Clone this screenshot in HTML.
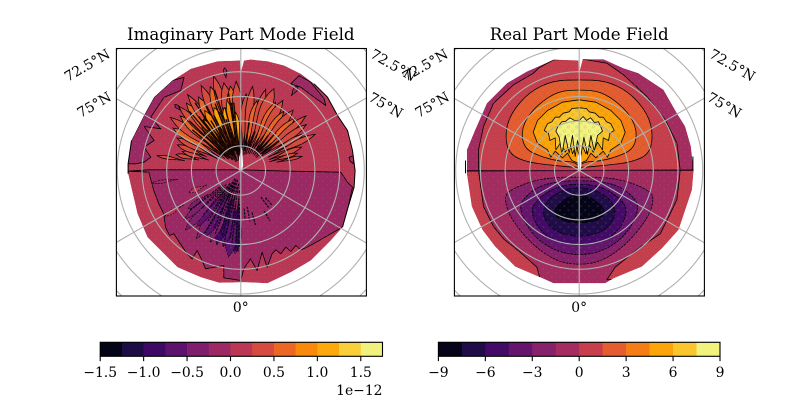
<!DOCTYPE html>
<html><head><meta charset="utf-8"><title>Mode Field Maps</title>
<style>
html,body{margin:0;padding:0;background:#fff;width:800px;height:400px;overflow:hidden}
svg{display:block}
text{font-family:"DejaVu Serif","Liberation Serif",serif;fill:#000}
.tick{font-size:13.9px}
.title{font-size:16.67px}
</style></head>
<body>
<svg id="fig" xmlns="http://www.w3.org/2000/svg" width="800" height="400" viewBox="0 0 800 400">
<defs>
<pattern id="stipple" width="8.33" height="8.33" patternUnits="userSpaceOnUse">
<circle cx="2" cy="2" r="1.1" fill="#ffffff" fill-opacity="0.1" stroke="#000" stroke-opacity="0.12" stroke-width="0.7"/>
<circle cx="6.17" cy="6.17" r="1.1" fill="#ffffff" fill-opacity="0.1" stroke="#000" stroke-opacity="0.12" stroke-width="0.7"/>
</pattern>
</defs>
<g id="layer"></g>
<text class="title" x="240.8" y="40" text-anchor="middle">Imaginary Part Mode Field</text>
<text class="title" x="579.2" y="40" text-anchor="middle">Real Part Mode Field</text>
<text class="tick" x="240.8" y="312" text-anchor="middle">0°</text>
<text class="tick" x="579.2" y="312" text-anchor="middle">0°</text>
<text class="tick" text-anchor="middle" transform="translate(87,65) rotate(-30)" dy="5">72.5°N</text>
<text class="tick" text-anchor="middle" transform="translate(94,104.5) rotate(-30)" dy="5">75°N</text>
<text class="tick" text-anchor="middle" transform="translate(393.5,65) rotate(30)" dy="5">72.5°N</text>
<text class="tick" text-anchor="middle" transform="translate(386,105) rotate(30)" dy="5">75°N</text>
<text class="tick" text-anchor="middle" transform="translate(425,65) rotate(-30)" dy="5">72.5°N</text>
<text class="tick" text-anchor="middle" transform="translate(432,104.5) rotate(-30)" dy="5">75°N</text>
<text class="tick" text-anchor="middle" transform="translate(732.5,65) rotate(30)" dy="5">72.5°N</text>
<text class="tick" text-anchor="middle" transform="translate(724.5,105) rotate(30)" dy="5">75°N</text>
<text class="tick" x="382.5" y="395" text-anchor="end">1e−12</text>
</svg>
<script>
// ---------- colour scales ----------
const imagColors = ['#040417','#1e0c45','#3d0965','#5d126e','#7e1e6c','#9c2964','#bc3754','#d64b40','#ec6726','#f9890b','#fca90e','#f9cf3a','#f1f27e'];
const realColors = ['#050418','#210c4a','#440a68','#65156e','#87216b','#a52c60','#c73e4c','#e55c30','#f67d15','#fca50a','#fac62d','#f2f27f'];
const imagTicks = [-1.5,-1.0,-0.5,0.0,0.5,1.0,1.5];
const realTicks = [-9,-6,-3,0,3,6,9];
const imagRange = [-1.5,1.75];
const realRange = [-9,9];

// ---------- graticule ----------
const latitudeRings = [87.5,85,82.5,80,77.5,75,72.5];
const meridians = [0,60,120,180,240,300];

// ---------- map-unit outlines [east,north] ----------
const imagDisk = [[10,330],[30,333],[80,328],[130,315],[180,290],[220,260],[260,220],[290,165],[320,120],[335,60],[343,0],[340,-50],[322,-110],[305,-170],[270,-210],[210,-270],[150,-305],[80,-338],[10,-335],[-65,-337],[-120,-320],[-190,-290],[-240,-240],[-280,-200],[-310,-130],[-338,-10],[-338,20],[-328,90],[-290,165],[-260,220],[-205,270],[-150,305],[-70,328],[-5,330]];
const realDisk = [[13,334],[73,334],[133,307],[178,292],[253,242],[293,172],[318,132],[335,72],[343,0],[338,-58],[318,-118],[298,-178],[248,-233],[188,-288],[103,-323],[78,-338],[-77,-338],[-117,-320],[-192,-288],[-252,-228],[-290,-178],[-322,-108],[-337,-8],[-337,62],[-312,122],[-277,202],[-217,262],[-157,297],[-77,332],[-2,330]];

// imaginary field: regions of the -0.25..0 band
const imagLowerBand = [[-338,-2],[-275,2],[-150,2],[0,2],[150,-2],[300,-5],[320,-35],[335,-50],[322,-110],[305,-170],[270,-190],[232,-212],[199,-230],[180,-238],[165,-225],[150,-243],[135,-230],[120,-250],[105,-238],[94,-250],[79,-290],[64,-245],[49,-300],[29,-265],[9,-295],[0,-330],[-51,-322],[-51,-285],[-106,-295],[-116,-270],[-131,-240],[-146,-265],[-161,-250],[-178,-225],[-201,-190],[-214,-195],[-226,-170],[-231,-130],[-246,-100],[-261,-60],[-276,-5]];
const imagUpperLeftBand = [[-338,20],[-315,20],[-290,25],[-270,40],[-290,70],[-260,90],[-285,125],[-290,132],[-260,128],[-240,125],[-270,160],[-230,220],[-180,240],[-170,280],[-205,270],[-260,220],[-290,165],[-328,90]];
const imagUpperRightBand = [[150,260],[175,285],[210,265],[250,215],[255,195],[220,220],[180,250]];
const imagRightSpeck = [[325,40],[338,45],[338,20],[328,28]];

// imaginary field: filled spikes [longitude, half width deg, start, end, band]
const upperSpikes = [
[-80,1.2,170,255,7],[-76,2,130,200,7],[-72,2.5,100,185,7],[-68,2.5,110,205,7],[-63,3,80,215,7],[-58,3.5,70,240,8],[-53,3.5,60,265,7],[-48,4,50,245,8],[-44,3.5,50,268,7],[-39,4.5,40,260,8],[-35,3.5,40,278,7],[-30,5,30,255,8],[-25,4,30,282,7],[-20,5,30,268,8],[-16,3.5,60,295,7],[-11,5.5,30,268,7],[-7,5.5,30,255,8],[-3,4.5,25,268,7],
[-42,3,70,175,9],[-36,2.5,90,190,9],[-31,3.5,90,210,9],[-23,3.5,100,205,10],[-15,3.5,100,195,10],[-11,3,70,215,9],[-5,3.5,60,175,10],
[4,4,45,230,7],[8,3.5,45,255,7],[13,4,50,215,8],[17,3.5,50,255,7],[22,5,55,265,7],[27,4,55,230,8],[31,4,60,245,7],[36,3.5,60,220,8],[41,4,60,240,7],[46,3.5,60,225,8],[50,3,60,255,7],[55,3,70,240,7],[60,2.5,80,220,7],[64,2.5,90,248,7],[69,2.5,90,195,7],[73,2,90,178,7],[77,1.5,110,188,7],
[-9,1,280,312,5],[34,1.2,270,305,5],[-45,1,255,280,5]];
const lowerSpikes = [
[184,5,80,250,2],[188,4.5,100,262,3],[193,4.5,60,235,3],[198,5,60,235,2],[203,4.5,50,235,4],[208,5,50,225,3],[213,4,50,245,4],[218,3.5,60,215,3],[223,3.5,70,245,4],[229,3,70,225,4],[234,2.5,120,195,4],[247,2.5,110,170,6],[239,1.5,200,265,6],[262,1.2,190,270,5]];
// imaginary field: thin dense contour pairs [longitude, start, end]
const upperStreaks = [[-50,70,190],[-46,60,215],[-43,70,170],[-41,50,235],[-38,70,205],[-37,60,190],[-34,50,245],[-31,60,175],[-28,50,225],[-26,70,185],[-23,50,150],[-21,40,215],[-18,60,255],[-16,70,160],[-14,50,195],[-9,40,235],[-8,100,205],[-6,60,205],[10,60,150],[20,70,125],[38,70,135],[43,70,155],[52,80,145]];
const lowerStreaks = [[182,100,245],[184,60,240],[187,120,220],[189,40,210],[193,50,235],[196,90,205],[198,30,195],[202,40,205],[205,80,190],[206,30,160],[210,40,220],[213,90,180],[215,30,135],[220,50,175],[226,60,165],[232,70,195],[240,90,185],[175,115,150],[170,110,155],[165,130,170],[143,100,140],[138,110,140],[150,140,175]];

// real field: contour polygons per level (positive lobes north, negative south)
const levelP15 = [[0,272],[78,270],[150,236],[206,170],[222,107],[210,48],[153,24],[73,15],[0,8],[-73,15],[-153,24],[-210,48],[-223,107],[-206,170],[-150,236],[-78,270]];
const levelP30 = [[0,242],[64,238],[124,198],[162,152],[174,105],[160,62],[110,40],[60,28],[15,26],[0,12],[-15,26],[-60,28],[-110,40],[-160,62],[-174,105],[-162,152],[-124,198],[-64,238]];
const levelP45 = [[0,212],[50,205],[95,180],[125,150],[138,115],[125,82],[95,62],[85,40],[72,58],[50,38],[35,52],[22,30],[0,20],[-22,30],[-35,52],[-50,38],[-72,58],[-85,40],[-95,62],[-125,82],[-138,115],[-125,150],[-95,180],[-50,205]];
const levelP60 = [[0,188],[22,186],[30,176],[48,172],[60,160],[72,160],[82,146],[95,140],[105,120],[92,112],[88,90],[72,98],[70,62],[55,85],[42,55],[28,82],[20,50],[8,78],[0,40],[-8,78],[-20,50],[-28,82],[-42,55],[-55,85],[-70,62],[-72,98],[-88,90],[-92,112],[-105,120],[-95,140],[-82,146],[-72,160],[-60,160],[-48,172],[-30,176],[-22,186]];
const levelP75 = [[0,150],[12,162],[22,150],[34,158],[46,144],[58,146],[66,128],[70,118],[55,105],[45,58],[35,105],[25,48],[14,100],[5,45],[-5,90],[-12,42],[-20,105],[-30,52],[-42,105],[-52,48],[-60,100],[-70,118],[-64,132],[-52,146],[-40,148],[-28,158],[-14,150]];
const levelM15 = [[0,-20],[74,-20],[145,-32],[215,-62],[224,-90],[205,-145],[142,-222],[70,-272],[0,-284],[-70,-272],[-142,-222],[-205,-145],[-224,-90],[-215,-62],[-145,-32],[-74,-20]];
const levelM30 = [[0,-30],[64,-33],[122,-47],[168,-84],[179,-115],[156,-170],[115,-216],[58,-246],[0,-254],[-58,-246],[-115,-216],[-156,-170],[-179,-115],[-168,-84],[-122,-47],[-64,-33]];
const levelM45 = [[0,-40],[54,-45],[100,-67],[134,-96],[144,-125],[125,-170],[90,-204],[48,-219],[0,-224],[-48,-219],[-90,-204],[-125,-170],[-144,-125],[-134,-96],[-100,-67],[-54,-45]];
const levelM60 = [[0,-50],[44,-58],[80,-76],[102,-100],[110,-130],[93,-165],[58,-189],[0,-199],[-58,-189],[-93,-165],[-110,-130],[-102,-100],[-80,-76],[-44,-58]];
const levelM75 = [[0,-72],[20,-78],[38,-82],[54,-96],[68,-106],[76,-125],[64,-145],[33,-155],[0,-157],[-33,-155],[-64,-145],[-76,-125],[-68,-106],[-54,-96],[-38,-82],[-20,-78]];
const realUpperBand = [[-302,0],[-302,62],[-287,132],[-257,202],[-197,257],[-137,292],[-122,307],[-77,332],[13,334],[83,322],[133,287],[203,222],[258,152],[293,82],[303,0]];
const realLowerLeftBand = [[-340,0],[-302,0],[-287,-108],[-257,-168],[-227,-205],[-177,-245],[-127,-290],[-117,-325],[-190,-320],[-300,-230],[-345,-110]];
const realLowerRightBand = [[303,0],[293,-88],[263,-150],[243,-190],[183,-230],[108,-290],[83,-328],[190,-320],[300,-230],[345,-110],[345,0]];

const svgNS = 'http://www.w3.org/2000/svg';
const layer = document.getElementById('layer');
const mapScale = 1/3;
const ringPxPerDegree = 9.88;
const panelCenterY = 170.5;
const tickPad = 4.86;

function make(tag, attrs, parent){
  const el = document.createElementNS(svgNS, tag);
  for(const k in attrs) el.setAttribute(k, attrs[k]);
  (parent||layer).appendChild(el);
  return el;
}
function pointsOf(list, cx){
  return list.map(p => (cx + p[0]*mapScale).toFixed(1) + ',' + (panelCenterY - p[1]*mapScale).toFixed(1)).join(' ');
}
function smoothPathOf(list, cx){
  const px = p => [cx + p[0]*mapScale, panelCenterY - p[1]*mapScale];
  const n = list.length;
  const mid = (a,b) => [(a[0]+b[0])/2,(a[1]+b[1])/2];
  const start = mid(px(list[n-1]),px(list[0]));
  let d = 'M' + start[0].toFixed(1) + ' ' + start[1].toFixed(1);
  for(let i=0;i<n;i++){
    const c = px(list[i]), m = mid(c,px(list[(i+1)%n]));
    d += 'Q' + c[0].toFixed(1) + ' ' + c[1].toFixed(1) + ' ' + m[0].toFixed(1) + ' ' + m[1].toFixed(1);
  }
  return d + 'Z';
}
function polarToMap(lonDeg, radius){
  const a = lonDeg*Math.PI/180;
  return [radius*Math.sin(a), radius*Math.cos(a)];
}
function spikeOutline(s){
  const out = [], n = 10;
  for(let i=0;i<=n;i++){
    const t=i/n, w=Math.sin(Math.PI*Math.pow(t,1.6));
    out.push(polarToMap(s[0]+s[1]*w, s[2]+(s[3]-s[2])*t));
  }
  for(let i=n-1;i>0;i--){
    const t=i/n, w=Math.sin(Math.PI*Math.pow(t,1.6));
    out.push(polarToMap(s[0]-s[1]*w, s[2]+(s[3]-s[2])*t));
  }
  return out;
}

function drawFrame(cx, left, clipId, diskList, g){
  const defs = document.querySelector('defs');
  const cp = make('clipPath',{id:clipId},defs);
  make('polygon',{points:pointsOf(diskList,cx)},cp);
  const bx = 'box'+clipId;
  const cp2 = make('clipPath',{id:bx},defs);
  make('rect',{x:left,y:48.5,width:250,height:247.5},cp2);
  return bx;
}
function drawGrid(cx, left, boxId, parent){
  const grid = make('g',{'clip-path':'url(#'+boxId+')',fill:'none',stroke:'#b0b0b0','stroke-width':1.1},parent);
  
  
  latitudeRings.forEach(lat => {
    const ring = make('circle',{cx:cx,cy:panelCenterY,r:(90-lat)*ringPxPerDegree},grid);
    
    
  });
  meridians.forEach(lon => {
    const a = lon*Math.PI/180;
    const line = make('line',{x1:cx,y1:panelCenterY,x2:cx+150*Math.sin(a),y2:panelCenterY+Math.min(125,150*Math.abs(Math.cos(a)))*Math.sign(Math.cos(a))},grid);
    
    
  });
  const frame = make('rect',{x:left,y:48.5,width:250,height:247.5,fill:'none',stroke:'#000','stroke-width':1.1},parent);
  
  
}
function drawSeam(cx, parent){
  const top = make('polygon',{points:pointsOf([[-1,290],[-3,338],[12,338]],cx),fill:'#fff'},parent);
  
  
  const mid = make('polygon',{points:pointsOf([[-5,38],[4,72],[7,15],[4,2],[-4,2]],cx),fill:'#fff'},parent);
  
  
}

// ---------- imaginary panel ----------
(function(){
  const cx = 240.8, left = 116.4;
  const panel = make('g',{});
  
  
  const boxId = drawFrame(cx,left,'imagClip',imagDisk,panel);
  const field = make('g',{'clip-path':'url(#imagClip)'},panel);
  
  
  const base = make('polygon',{points:pointsOf(imagDisk,cx),fill:imagColors[6]},field);
  
  
  [imagLowerBand,imagUpperLeftBand,imagUpperRightBand,imagRightSpeck].forEach(b => {
    const r = make('polygon',{points:pointsOf(b,cx),fill:imagColors[5],stroke:'#000','stroke-width':0.8,'stroke-linejoin':'round'},field);
    
    
  });
  upperSpikes.forEach(s => {
    const m = make('polygon',{points:pointsOf(spikeOutline(s),cx),fill:imagColors[s[4]],stroke:'#000','stroke-width':0.75},field);
    
    
  });
  upperStreaks.forEach(s => {
    const a = polarToMap(s[0],s[1]), b = polarToMap(s[0],s[2]);
    const m = make('polyline',{points:pointsOf([a,b],cx),fill:'none',stroke:'#1a0500','stroke-width':1.4},field);
    
    
  });
  lowerSpikes.forEach(s => {
    const m = make('polygon',{points:pointsOf(spikeOutline(s),cx),fill:imagColors[s[4]],stroke:'#000','stroke-width':0.6,'stroke-dasharray':'2 1'},field);
    
    
  });
  lowerStreaks.forEach(s => {
    const a = polarToMap(s[0],s[1]), b = polarToMap(s[0],s[2]);
    const m = make('polyline',{points:pointsOf([a,b],cx),fill:'none',stroke:'#10041c','stroke-width':1.2,'stroke-dasharray':'2.5 1'},field);
    
    
  });
  const hatch = make('polygon',{points:pointsOf(imagDisk,cx),fill:'url(#stipple)'},field);
  
  
  const rim = make('polyline',{points:pointsOf(imagDisk.slice(5,14),cx),fill:'none',stroke:'#000','stroke-width':1},panel);
  
  
  const rimLeft = make('polyline',{points:pointsOf(imagDisk.slice(25,28),cx),fill:'none',stroke:'#000','stroke-width':1},panel);
  
  
  drawSeam(cx,panel);
  drawGrid(cx,left,boxId,panel);
})();

// ---------- real panel ----------
(function(){
  const cx = 579.2, left = 454.4;
  const panel = make('g',{});
  
  
  const boxId = drawFrame(cx,left,'realClip',realDisk,panel);
  const field = make('g',{'clip-path':'url(#realClip)'},panel);
  
  
  const base = make('polygon',{points:pointsOf(realDisk,cx),fill:realColors[5]},field);
  
  
  [realUpperBand,realLowerLeftBand,realLowerRightBand].forEach(b => {
    const r = make('polygon',{points:pointsOf(b,cx),fill:realColors[6],stroke:'#000','stroke-width':0.8},field);
    
    
  });
  [[levelP15,7],[levelP30,8]].forEach(c => {
    const r = make('path',{d:smoothPathOf(c[0],cx),fill:realColors[c[1]],stroke:'#000','stroke-width':0.8},field);
    
    
  });
  [[levelP45,9],[levelP60,10],[levelP75,11]].forEach(c => {
    const r = make('polygon',{points:pointsOf(c[0],cx),fill:realColors[c[1]],stroke:'#000','stroke-width':0.8,'stroke-linejoin':'round'},field);
    
    
  });
  [[levelM15,4],[levelM30,3],[levelM45,2],[levelM60,1],[levelM75,0]].forEach(c => {
    const r = make('path',{d:smoothPathOf(c[0],cx),fill:realColors[c[1]],stroke:'#000','stroke-width':0.8,'stroke-dasharray':'2.5 1'},field);
    
    
  });
  const zero = make('polyline',{points:pointsOf([[-345,-2],[345,2]],cx),fill:'none',stroke:'#4a1030','stroke-width':1.1},field);
  
  
  const hatch = make('polygon',{points:pointsOf(realDisk,cx),fill:'url(#stipple)'},field);
  
  
  [[[-341,30],[-341,-8]],[[341,42],[341,0]]].forEach(s => {
    const stub = make('polyline',{points:pointsOf(s,cx),fill:'none',stroke:'#000','stroke-width':1},panel);
    
    
  });
  drawSeam(cx,panel);
  drawGrid(cx,left,boxId,panel);
})();

// ---------- colorbars ----------
function drawColorbar(name, x0, x1, colors, range, ticks, format){
  const y0 = 342.3, y1 = 356.3;
  const bar = make('g',{});
  
  
  const w = (x1-x0)/colors.length;
  colors.forEach((c,i) => {
    const seg = make('rect',{x:x0+i*w,y:y0,width:w+0.3,height:y1-y0,fill:c},bar);
    
    
  });
  const out = make('rect',{x:x0,y:y0,width:x1-x0,height:y1-y0,fill:'none',stroke:'#000','stroke-width':1.1},bar);
  
  
  const sx = v => x0 + (v-range[0])/(range[1]-range[0])*(x1-x0);
  ticks.forEach(t => {
    const mark = make('line',{x1:sx(t),x2:sx(t),y1:y1,y2:y1+tickPad,stroke:'#000','stroke-width':1.1},bar);
    
    
    const label = make('text',{x:sx(t),y:377,'text-anchor':'middle','class':'tick'},bar);
    
    
    label.textContent = format(t);
  });
}
const minus = '\u2212';
drawColorbar('imaginary-colorbar',100.2,382.5,imagColors,imagRange,imagTicks,v => (v<0?minus:'')+Math.abs(v).toFixed(1));
drawColorbar('real-colorbar',438.4,720,realColors,realRange,realTicks,v => (v<0?minus:'')+Math.abs(v));
</script>
</body></html>
